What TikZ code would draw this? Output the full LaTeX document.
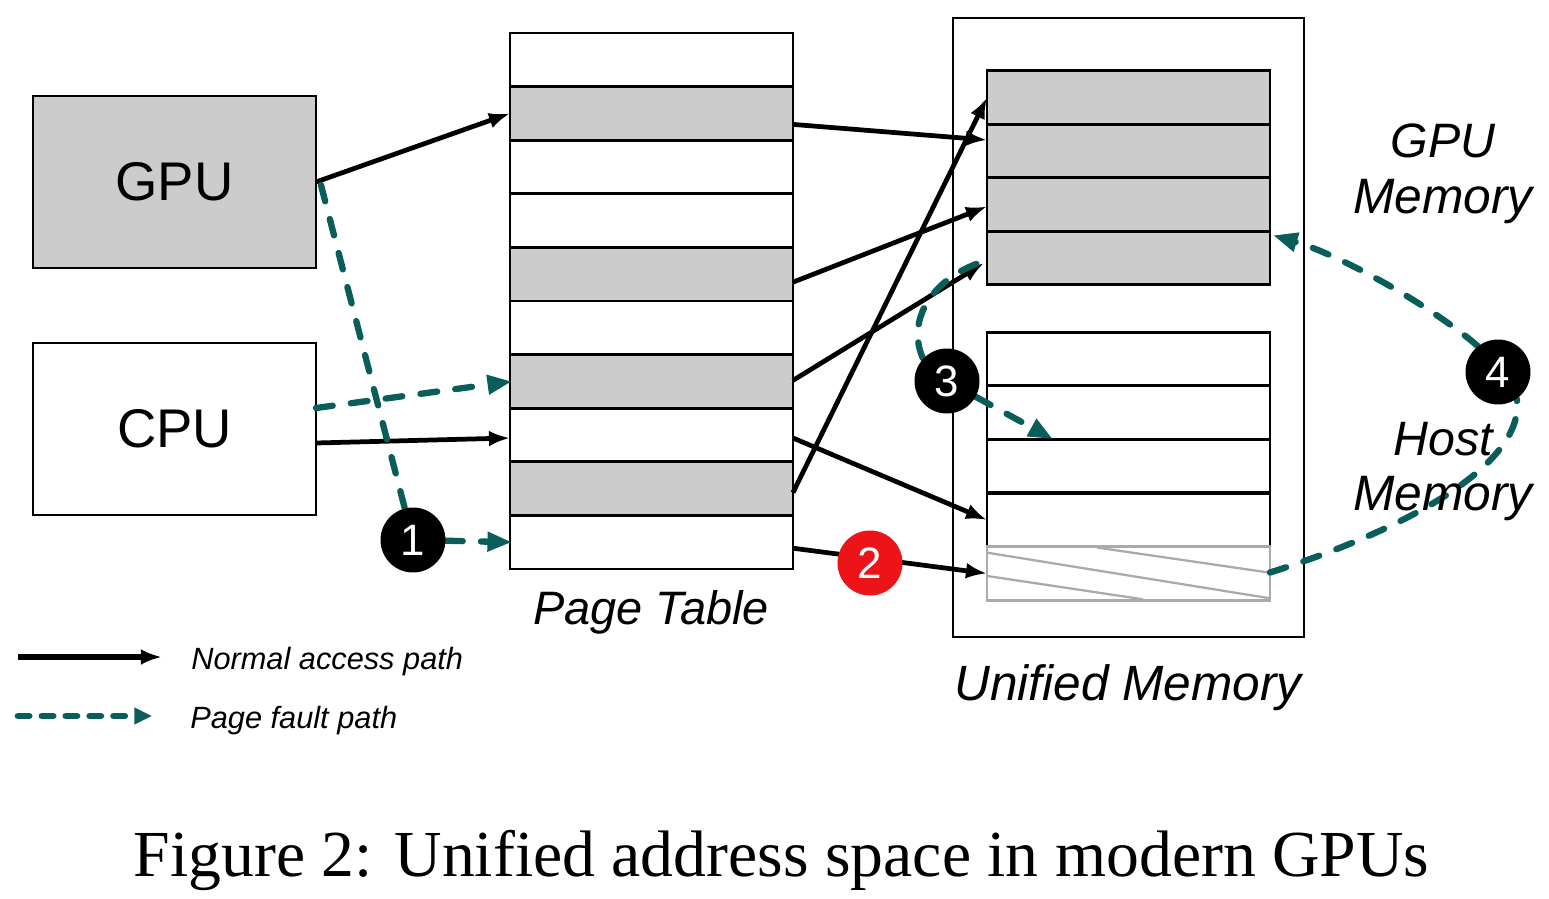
\documentclass[tikz,border=0pt]{standalone}
\usepackage{fontspec}
\setmainfont{Liberation Sans}
\newfontfamily\capfont{Liberation Serif}
\usetikzlibrary{arrows.meta,calc}
\definecolor{pfteal}{RGB}{10,94,90}
\definecolor{boxgray}{RGB}{204,204,204}
\definecolor{hatchgray}{RGB}{170,170,170}
\definecolor{numred}{RGB}{236,20,24}
\pgfdeclarelayer{fg}
\pgfsetlayers{main,fg}
\begin{document}
\begin{tikzpicture}[x=0.02cm,y=-0.02cm,
  box/.style={draw, line width=1.6pt, minimum width=5.66cm, minimum height=3.44cm, inner sep=0, outer sep=0, font=\fontsize{31}{37}\selectfont},
  row/.style={draw, line width=1.5pt, minimum width=5.66cm, minimum height=1.072cm, inner sep=0, outer sep=0},
  fullrow/.style={row, fill=boxgray},
  memrow/.style={draw, line width=1.5pt, minimum width=5.66cm, minimum height=1.07cm, inner sep=0, outer sep=0},
  fullmem/.style={memrow, fill=boxgray},
  normal/.style={line width=2.7pt, -{Latex[length=12pt,width=9pt]}},
  fault/.style={pfteal, line width=3.6pt, line cap=round, dash pattern=on 9.6pt off 10.4pt},
  faulttip/.style={fault, -{Triangle[length=14pt,width=10.5pt]}},
  num/.style={circle, fill=black, minimum size=1.3cm, inner sep=0, text=white, font=\fontsize{25}{30}\selectfont},
  lbl/.style={font=\fontsize{27.5}{33}\selectfont\itshape, inner sep=0, anchor=base},
  leg/.style={font=\fontsize{17.5}{21}\selectfont\itshape, inner sep=0, anchor=base west}
]
\useasboundingbox (0,0) rectangle (1549,899);

% CPU / GPU
\node[box, fill=boxgray] (gpu) at (174.5,182) {GPU};
\node[box] (cpu) at (174.5,429) {CPU};

% Page table
\node[row]     (pt1)  at (651.5,59.8)  {};
\node[fullrow] (pt2)  at (651.5,113.4) {};
\node[row]     (pt3)  at (651.5,167.0) {};
\node[row]     (pt4)  at (651.5,220.6) {};
\node[fullrow] (pt5)  at (651.5,274.2) {};
\node[row]     (pt6)  at (651.5,327.8) {};
\node[fullrow] (pt7)  at (651.5,381.4) {};
\node[row]     (pt8)  at (651.5,435.0) {};
\node[fullrow] (pt9)  at (651.5,488.6) {};
\node[row]     (pt10) at (651.5,542.2) {};

% Unified memory
\node[draw, line width=1.6pt, minimum width=7.02cm, minimum height=12.38cm, inner sep=0] (um) at (1128.5,327.5) {};
\node[fullmem] (gm1) at (1128.5,97.5)  {};
\node[fullmem] (gm2) at (1128.5,151.0) {};
\node[fullmem] (gm3) at (1128.5,204.5) {};
\node[fullmem] (gm4) at (1128.5,258.0) {};
\node[memrow]  (hm1) at (1128.5,359.0) {};
\node[memrow]  (hm2) at (1128.5,412.5) {};
\node[memrow]  (hm3) at (1128.5,466.0) {};
\node[memrow]  (hm4) at (1128.5,520.0) {};
\node[memrow, draw=hatchgray] (hx) at (1128.5,573.5) {};
\draw[hatchgray, line width=1.3pt] (1096.7,547.5) -- (1270,572.7);
\draw[hatchgray, line width=1.3pt] (987.3,552.7) -- (1270,598.3);
\draw[hatchgray, line width=1.3pt] (987.3,576) -- (1143,599.3);

% circles
\begin{pgfonlayer}{fg}
\node[num] (c1) at (413,540) {1};
\node[num, fill=numred] (c2) at (870,563) {2};
\node[num] (c3) at (947,381) {3};
\node[num] (c4) at (1498,372) {4};
\end{pgfonlayer}

% normal access paths
\draw[normal] (gpu.east) -- (pt2.west);
\draw[normal] ($(cpu.east)+(0,14)$) -- ($(pt8.west)+(0,3)$);
\draw[normal] ($(pt2.east)+(0,11)$) -- ($(gm2.west)+(0,-11)$);
\draw[normal] ($(pt5.east)+(0,8)$) -- ($(gm3.west)+(0,2)$);
\draw[normal] ($(pt7.east)+(0,-1)$) -- ($(gm4.west)+(-3,5)$);
\draw[normal] ($(pt9.east)+(0,4)$) -- (gm1.west);
\draw[normal] ($(pt8.east)+(0,3)$) -- (hm4.west);
\draw[normal] ($(pt10.east)+(0,6)$) -- (hx.west);

% page fault paths
\draw[fault] ($(gpu.east)+(5,3)$) -- (c1);
\draw[faulttip] (c1) -- ($(pt10.west)+(2,0)$);
\draw[faulttip] ($(cpu.east)+(0,-21)$) -- ($(pt7.west)+(2,0)$);
\draw[fault] (c3.137) .. controls (905,318) and (935,275) .. ($(gm4.west)+(1,2)$);
\draw[faulttip] (c3) -- ($(hm2.south west)+(66,0)$);
\draw[fault] ($(hx.east)+(0,-1)$) .. controls (1420,525) and (1525,460) .. (c4.-55);
\draw[faulttip] (c4.128) .. controls (1430,305) and (1340,255) .. ($(gm4.north east)+(3,4)$);

% labels
\node[lbl, font=\fontsize{26.7}{32}\selectfont\itshape] (ptlabel) at (651,624) {Page Table};
\node[lbl, font=\fontsize{28.2}{34}\selectfont\itshape] (umlabel) at (1128,700) {Unified Memory};
\node[lbl] (gmlabela) at (1443,157) {GPU};
\node[lbl, font=\fontsize{28.3}{34}\selectfont\itshape] (gmlabelb) at (1443,213) {Memory};
\node[lbl] (hmlabela) at (1443,455) {Host};
\node[lbl, font=\fontsize{28.3}{34}\selectfont\itshape] (hmlabelb) at (1443,510) {Memory};

% legend
\coordinate (la1) at (18,657);
\coordinate (la2) at (162,657);
\coordinate (lb1) at (18,716);
\coordinate (lb2) at (152,716);
\draw[line width=2.9pt, -{Latex[length=12pt,width=9pt]}] (la1) -- (la2);
\draw[pfteal, line width=3.8pt, line cap=round, dash pattern=on 6.4pt off 7.2pt, -{Triangle[length=10pt,width=9pt]}] (lb1) -- (lb2);
\node[leg] (lega) at (191,669) {Normal access path};
\node[leg] (legb) at (190,728) {Page fault path};

% caption
\node[inner sep=0, anchor=base, font=\capfont\fontsize{37.4}{44}\selectfont] (cap) at (781.5,876) {Figure 2: Unified address space in modern GPUs};
\end{tikzpicture}
\end{document}
